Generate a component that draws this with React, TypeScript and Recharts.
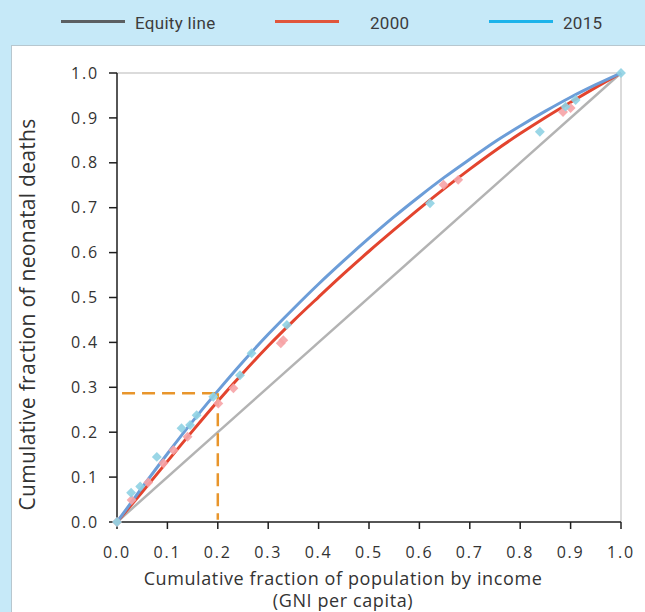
import React from "react";
import {
	ComposedChart,
	Line,
	Scatter,
	XAxis,
	YAxis,
	ReferenceLine,
} from "recharts";

const X_TICKS = [0, 0.1, 0.2, 0.3, 0.4, 0.5, 0.6, 0.7, 0.8, 0.9, 1.0];
const Y_TICKS = [0, 0.1, 0.2, 0.3, 0.4, 0.5, 0.6, 0.7, 0.8, 0.9, 1.0];

// fitted concentration curves
const CURVE_X = [0, 0.05, 0.1, 0.15, 0.2, 0.25, 0.3, 0.35, 0.4, 0.45, 0.5, 0.55, 0.6, 0.65, 0.7, 0.75, 0.8, 0.85, 0.9, 0.95, 1.0];
const CURVE_2000 = [0, 0.067, 0.135, 0.203, 0.269, 0.332, 0.392, 0.448, 0.501, 0.553, 0.603, 0.651, 0.698, 0.743, 0.786, 0.827, 0.865, 0.901, 0.935, 0.968, 1.0];
const CURVE_2015 = [0, 0.077, 0.152, 0.224, 0.292, 0.357, 0.418, 0.475, 0.53, 0.582, 0.632, 0.68, 0.725, 0.768, 0.808, 0.847, 0.882, 0.915, 0.946, 0.974, 1.0];

// country-group points
const POINTS_2000_X = [0, 0.029, 0.062, 0.092, 0.112, 0.14, 0.201, 0.231, 0.325, 0.33, 0.648, 0.677, 0.885, 0.9];
const POINTS_2000_Y = [0, 0.049, 0.088, 0.131, 0.16, 0.19, 0.264, 0.298, 0.398, 0.405, 0.751, 0.762, 0.913, 0.922];
const POINTS_2015_X = [0, 0.028, 0.046, 0.079, 0.128, 0.145, 0.158, 0.191, 0.244, 0.267, 0.337, 0.621, 0.839, 0.89, 0.91, 1.0];
const POINTS_2015_Y = [0, 0.065, 0.079, 0.145, 0.209, 0.216, 0.238, 0.279, 0.327, 0.376, 0.439, 0.71, 0.869, 0.925, 0.94, 1.0];

const EQUITY_X = [0, 1];
const EQUITY_Y = [0, 1];

// the 20% poorest marker
const MARK_X = 0.2;
const MARK_Y = 0.287;

const LEGEND = [
	{ label: "Equity line", color: "#5b5f62", lineX: 61, textX: 135 },
	{ label: "2000", color: "#e0563c", lineX: 275, textX: 370 },
	{ label: "2015", color: "#1cb3ea", lineX: 489, textX: 563 },
];

const toPoints = (xs: number[], ys: number[]) => xs.map((x, i) => ({ x, y: ys[i] }));

const equity = toPoints(EQUITY_X, EQUITY_Y);
const line2000 = toPoints(CURVE_X, CURVE_2000);
const line2015 = toPoints(CURVE_X, CURVE_2015);
const pts2000 = toPoints(POINTS_2000_X, POINTS_2000_Y);
const pts2015 = toPoints(POINTS_2015_X, POINTS_2015_Y);

const FONT = "'Open Sans', sans-serif";
const AXIS = "#1e1e1e";
const TICK = { fill: "#333", fontSize: 16, fontFamily: FONT, letterSpacing: 1.8 };

// blurry rotated-square markers
const marker = (fill: string) => (props: any) => {
	const { cx, cy } = props;
	return (
		<rect
			x={cx - 3.5}
			y={cy - 3.5}
			width={7}
			height={7}
			fill={fill}
			fillOpacity={0.9}
			transform={`rotate(45 ${cx} ${cy})`}
		/>
	);
};

function YTitle({ viewBox }: any) {
	const cx = 27;
	const cy = viewBox.y + viewBox.height / 2 + 17;
	return (
		<text
			x={cx}
			y={cy}
			transform={`rotate(-90 ${cx} ${cy})`}
			textAnchor="middle"
			dominantBaseline="central"
			fontFamily={FONT}
			fontSize={21}
			letterSpacing={0.3}
			fill="#333"
		>
			Cumulative fraction of neonatal deaths
		</text>
	);
}

function XTitle({ viewBox }: any) {
	// the title sits a little left of the plot centre
	const cx = viewBox.x + viewBox.width / 2 - 26;
	return (
		<g fontFamily={FONT} fontSize={18} letterSpacing={0.6} fill="#333" textAnchor="middle">
			<text x={cx} y={viewBox.y + 63}>
				Cumulative fraction of population by income
			</text>
			<text x={cx} y={viewBox.y + 85}>
				(GNI per capita)
			</text>
		</g>
	);
}

export default function App() {
	return (
		<div
			style={{
				position: "absolute",
				left: 0,
				top: 0,
				width: 645,
				height: 612,
				background: "#c6e9f8",
				overflow: "hidden",
			}}
		>
			{LEGEND.map((item) => (
				<React.Fragment key={item.label}>
					<div
						style={{
							position: "absolute",
							left: item.lineX,
							top: 20,
							width: 64,
							height: 3,
							background: item.color,
						}}
					/>
					<div
						style={{
							position: "absolute",
							left: item.textX,
							top: 13,
							fontFamily: "Roboto, sans-serif",
							fontSize: 17,
							letterSpacing: 0.3,
							color: "#3c3c3c",
							lineHeight: "20px",
						}}
					>
						{item.label}
					</div>
				</React.Fragment>
			))}
			<div
				style={{
					position: "absolute",
					left: 11,
					top: 45,
					width: 640,
					height: 580,
					background: "#fff",
					border: "1px solid #b7c7cf",
				}}
			/>
			<div style={{ position: "absolute", left: 0, top: 0 }}>
				<ComposedChart
					width={645}
					height={612}
					margin={{ top: 73, right: 24, bottom: 0, left: 0 }}
				>
					<XAxis
						type="number"
						dataKey="x"
						domain={[0, 1]}
						ticks={X_TICKS}
						tickFormatter={(v: number) => v.toFixed(1)}
						height={90}
						stroke={AXIS}
						strokeWidth={1.5}
						tickSize={7}
						tickMargin={18}
						tick={TICK}
						label={{ content: XTitle }}
					/>
					<YAxis
						type="number"
						dataKey="y"
						domain={[0, 1]}
						ticks={Y_TICKS}
						tickFormatter={(v: number) => v.toFixed(1)}
						width={117}
						stroke={AXIS}
						strokeWidth={1.5}
						tickSize={8}
						tickMargin={10}
						tick={TICK}
						label={{ content: YTitle }}
					/>
					<ReferenceLine y={1} stroke="#cfcfcf" strokeWidth={1.5} />
					<ReferenceLine x={1} stroke="#cfcfcf" strokeWidth={1.5} />
					<Line
						data={equity}
						dataKey="y"
						stroke="#b3b3b3"
						strokeWidth={2.5}
						dot={false}
						isAnimationActive={false}
					/>
					<Line
						data={line2000}
						dataKey="y"
						type="monotone"
						stroke="#e3442e"
						strokeWidth={3}
						dot={false}
						isAnimationActive={false}
					/>
					<Line
						data={line2015}
						dataKey="y"
						type="monotone"
						stroke="#6c9dd8"
						strokeWidth={3}
						dot={false}
						isAnimationActive={false}
					/>
					<Scatter
						data={pts2000}
						shape={marker("#f6a3a6")}
						isAnimationActive={false}
					/>
					<Scatter
						data={pts2015}
						shape={marker("#8fd2e3")}
						isAnimationActive={false}
					/>
					<ReferenceLine
						segment={[
							{ x: 0.01, y: MARK_Y },
							{ x: MARK_X, y: MARK_Y },
						]}
						stroke="#e8952b"
						strokeWidth={2.5}
						strokeDasharray="13 7"
					/>
					<ReferenceLine
						segment={[
							{ x: MARK_X, y: MARK_Y },
							{ x: MARK_X, y: 0.005 },
						]}
						stroke="#e8952b"
						strokeWidth={2.5}
						strokeDasharray="13 7"
					/>
				</ComposedChart>
			</div>
		</div>
	);
}
